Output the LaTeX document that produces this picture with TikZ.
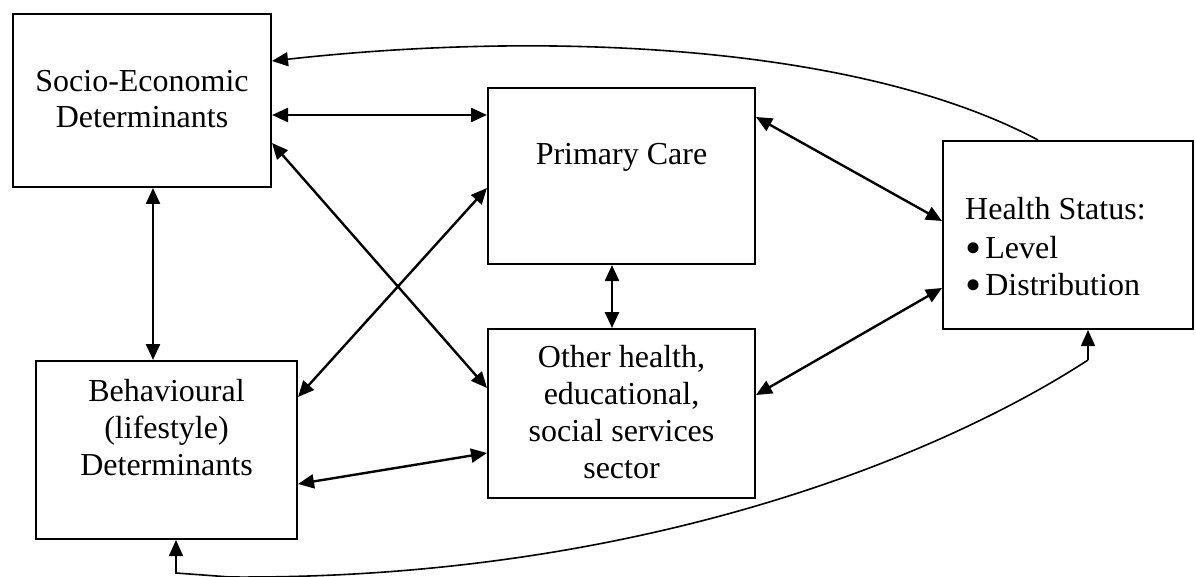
\documentclass[tikz,border=0pt]{standalone}
\usepackage{fontspec}
\setmainfont{Liberation Serif}
\usetikzlibrary{arrows.meta}
\tikzset{box/.style={draw, line width=2pt, inner sep=0pt}}
\tikzset{txt/.style={font=\fontsize{32}{37}\selectfont, align=center, anchor=base, inner sep=0pt}}
\tikzset{link/.style={line width=2.4pt, {Triangle[length=16pt,width=14pt]}-{Triangle[length=16pt,width=14pt]}}}
\tikzset{loopback/.style={line width=1.6pt, -{Triangle[length=16pt,width=14pt]}}}
\newcommand{\bigdot}{\smash{\raisebox{-5pt}{\fontsize{46}{46}\selectfont\textbullet}}\hspace{4pt}}

\begin{document}
\begin{tikzpicture}[x=1pt,y=-1pt]
\useasboundingbox (0,0) rectangle (1196,577);
% boxes
\node[box, minimum width=258pt, minimum height=173pt] (se) at (142,100.5) {};
\node[box, minimum width=267pt, minimum height=176pt] (pc) at (621.5,176) {};
\node[box, minimum width=250pt, minimum height=188pt] (hs) at (1068,235) {};
\node[box, minimum width=261pt, minimum height=178pt] (bh) at (166.5,450) {};
\node[box, minimum width=267pt, minimum height=169pt] (ot) at (621.5,413.5) {};
% texts (base = last line)
\node[txt] (setxt) at (142,128) {Socio-Economic\\[-1pt]Determinants};
\node[txt] (pctxt) at (621.5,165) {Primary Care};
\node[txt, align=left, anchor=base west] (hstxt) at (965,295)
  {Health Status:\\[2pt]\bigdot Level\\\bigdot Distribution};
\node[txt] (bhtxt) at (166.5,475) {Behavioural\\(lifestyle)\\Determinants};
\node[txt] (ottxt) at (621.5,478) {Other health,\\educational,\\social services\\sector};
% two-way links
\draw[link] ([yshift=-14.5pt]se.east) -- ([yshift=61pt]pc.west);
\draw[link] ([xshift=11pt]se.south) -- ([xshift=-13.5pt]bh.north);
\draw[link] ([yshift=-42.5pt]se.east) -- ([yshift=25.5pt]ot.west);
\draw[link] ([yshift=53pt]bh.east) -- ([yshift=-12pt]pc.west);
\draw[link] ([yshift=-34pt]bh.east) -- ([yshift=-39.5pt]ot.west);
\draw[link] ([xshift=-9.5pt]pc.south) -- ([xshift=-9.5pt]ot.north);
\draw[link] ([yshift=59pt]pc.east) -- ([yshift=14pt]hs.west);
\draw[link] ([yshift=18.5pt]ot.east) -- ([yshift=-53pt]hs.west);
% feedback curves
\draw[loopback] ([xshift=-30pt]hs.north) .. controls (860,45) and (550,30) .. ([yshift=39.5pt]se.east);
\coordinate (hsfoot) at (1088,360);
\coordinate (bend) at (230,577);
\coordinate (bhfoot) at (176,573);
\draw[loopback] (hsfoot) -- ([xshift=20pt]hs.south);
\draw[loopback] (hsfoot) .. controls (950,450) and (650,580) .. (bend) -- (bhfoot) -- ([xshift=9.5pt]bh.south);
\end{tikzpicture}
\end{document}
